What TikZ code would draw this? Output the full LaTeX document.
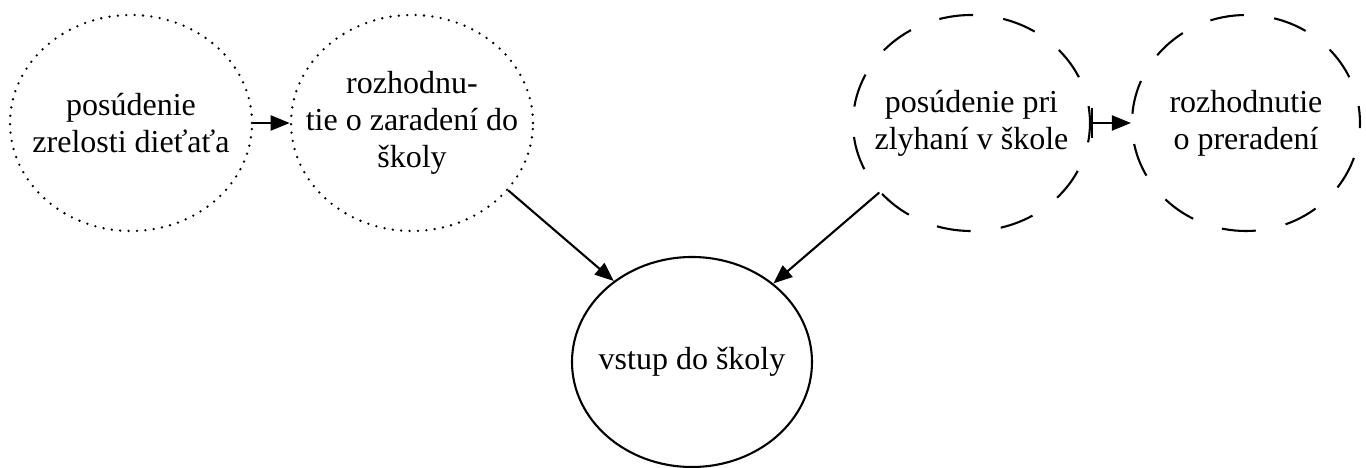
\documentclass[tikz,border=0pt]{standalone}
\usepackage{fontspec}
\setmainfont{Liberation Serif}
\usetikzlibrary{shapes.geometric,arrows.meta}
\begin{document}
\begin{tikzpicture}[x=1pt,y=-1pt,
  lbl/.style={font=\fontsize{32}{37}\selectfont, align=center, inner sep=0pt},
  el/.style={ellipse, draw, line width=2.1pt, inner sep=0pt},
  dottedel/.style={el, line cap=round, dash pattern=on 0pt off 8.4pt, line width=2.6pt},
  dashedel/.style={el, dash pattern=on 34pt off 30.5pt, dash phase=17pt},
  conn/.style={line width=2.1pt, -{Triangle[length=19pt,width=15pt]}},
  barconn/.style={line width=2.1pt, {Bar[width=30pt]}-{Triangle[length=19pt,width=15pt]}},
]
\useasboundingbox (0,0) rectangle (1366,468);
\node[dottedel, minimum width=242pt, minimum height=216pt] (e1) at (131,123) {};
\node[dottedel, minimum width=242pt, minimum height=216pt] (e2) at (412,123) {};
\node[dashedel, minimum width=237pt, minimum height=216pt] (e3) at (971.5,123) {};
\node[dashedel, minimum width=228pt, minimum height=216pt] (e4) at (1246,123) {};
\node[el, minimum width=240pt, minimum height=210pt] (e5) at (692,362) {};
\node[lbl] (t1) at (e1) {posúdenie\\zrelosti dieťaťa};
\node[lbl] (t2) at (e2) {rozhodnu-\\tie o zaradení do\\školy};
\node[lbl] (t3) at (e3) {posúdenie pri\\zlyhaní v škole};
\node[lbl] (t4) at (e4) {rozhodnutie\\o preradení};
\node[lbl] (t5) at (e5) {vstup do školy};
\draw[conn] (e1.east) -- (e2.west);
\draw[barconn] (e3.east) -- (e4.west);
\draw[conn] (e2.-35) -- (e5.134);
\draw[conn] (e3.217) -- (e5.44);
\end{tikzpicture}
\end{document}
